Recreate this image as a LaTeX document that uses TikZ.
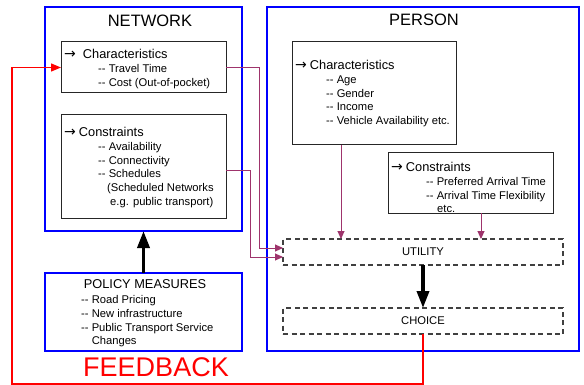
\documentclass[tikz,border=0pt]{standalone}
\usepackage{fontspec}
\setmainfont{Liberation Sans}
\newfontfamily\symbfont{DejaVu Sans}
\usepackage{tikz}
\usetikzlibrary{arrows.meta}

\definecolor{plum}{RGB}{158,52,108}
\newcommand{\hfont}{\fontsize{12.8}{13.8}\selectfont}
\newcommand{\hd}{{\symbfont\fontsize{14}{13.8}\selectfont →}}
\newcommand{\dd}{-{}-~}

\begin{document}
\begin{tikzpicture}[x=1pt,y=-1pt,
    font=\fontsize{11.2}{13.8}\selectfont,
    outer/.style={draw=blue,line width=2.2pt,inner sep=0,outer sep=0,anchor=north west},
    box/.style={draw=black!85,line width=1pt,inner sep=0,outer sep=0,anchor=north west},
    dashbox/.style={draw=black!75,line width=1.1pt,dash pattern=on 5pt off 3.5pt,inner sep=0,outer sep=0,anchor=north west},
    title/.style={font=\fontsize{16.5}{18}\selectfont,inner sep=0},
    txt/.style={align=left,anchor=north west,inner sep=0},
    link/.style={draw=plum,line width=0.9pt,-{Triangle[length=8pt,width=7pt]}},
    bigarrow/.style={line width=3.5pt,-{Triangle[length=17pt,width=12pt]}},
    fb/.style={draw=red,line width=1.3pt,-{Triangle[length=10pt,width=8pt]}}]
    \useasboundingbox (0,0) rectangle (584,385);

    \node[outer,minimum width=197pt,minimum height=224pt] (network) at (45,7) {};
    \node[title] (nettitle) at (150,21) {NETWORK};
    \node[box,minimum width=165pt,minimum height=51pt] (netchar) at (61,42) {};
    \node[txt] (netchartxt) at (64,49) {{\hfont\hd\hspace{7pt}Characteristics}\\
        \hspace*{34pt}\dd Travel Time\\
        \hspace*{34pt}\dd Cost (Out-of-pocket)};
    \node[box,minimum width=165pt,minimum height=103pt] (netcon) at (61,115) {};
    \node[txt] (netcontxt) at (64,127) {{\hfont\hd\hspace{3pt}Constraints}\\
        \hspace*{34pt}\dd Availability\\
        \hspace*{34pt}\dd Connectivity\\
        \hspace*{34pt}\dd Schedules\\
        \hspace*{43pt}(Scheduled Networks\\
        \hspace*{46pt}e.g. public transport)};

    \node[outer,minimum width=197pt,minimum height=78pt] (policy) at (45,273) {};
    \node[inner sep=0,font=\hfont] (policytitle) at (145,284) {POLICY MEASURES};
    \node[txt] (policytxt) at (81,295.1) {\dd Road Pricing\\
        \dd New infrastructure\\
        \dd Public Transport Service\\
        \phantom{\dd}Changes};

    \node[outer,minimum width=312pt,minimum height=344pt] (person) at (267,7) {};
    \node[title] (perstitle) at (424,20) {PERSON};
    \node[box,minimum width=164pt,minimum height=103pt] (perschar) at (292,42) {};
    \node[txt] (perschartxt) at (295,60) {{\hfont\hd\hspace{3pt}Characteristics}\\
        \hspace*{31pt}\dd Age\\
        \hspace*{31pt}\dd Gender\\
        \hspace*{31pt}\dd Income\\
        \hspace*{31pt}\dd Vehicle Availability etc.};
    \node[box,minimum width=165pt,minimum height=60pt] (perscon) at (388,153) {};
    \node[txt] (perscontxt) at (391,162) {{\hfont\hd\hspace{3pt}Constraints}\\
        \hspace*{35pt}\dd Preferred Arrival Time\\
        \hspace*{35pt}\dd Arrival Time Flexibility\\
        \hspace*{46pt}etc.};
    \node[dashbox,minimum width=280pt,minimum height=26pt] (utility) at (283,239) {UTILITY};
    \node[dashbox,minimum width=280pt,minimum height=26pt] (choice) at (283,308) {CHOICE};

    \node[text=red,font=\fontsize{27}{30}\selectfont,inner sep=0] (feedback) at (156,367) {FEEDBACK};
    \coordinate (fbcorner) at (12,384);

    \draw[bigarrow] (policy.north) -- (network.south);
    \draw[bigarrow] (utility.south) -- (choice.north);
    \draw[fb] (choice.south) |- (fbcorner) |- (netchar.west);

    \draw[link] (netchar.east) -| ([xshift=-24pt,yshift=4pt]utility.west) -- ([yshift=4pt]utility.west);
    \draw[link] ([yshift=-4pt]netcon.east) -| ([xshift=-33pt,yshift=-5pt]utility.west) -- ([yshift=-5pt]utility.west);
    \draw[link] ([xshift=-33pt]perschar.south) -- ([xshift=-33pt]perschar.south |- utility.north);
    \draw[link] ([xshift=10.5pt]perscon.south) -- ([xshift=10.5pt]perscon.south |- utility.north);
\end{tikzpicture}
\end{document}
